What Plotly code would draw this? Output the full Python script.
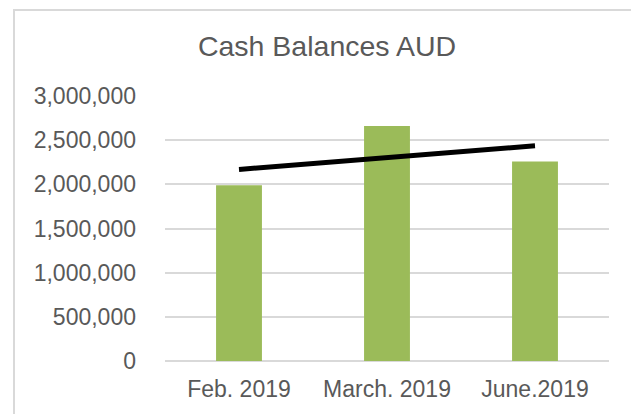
import numpy as np
import plotly.graph_objects as go

categories = ["Feb. 2019", "March. 2019", "June.2019"]
balances = [1990000, 2659000, 2258000]
y_ticks = [0, 500000, 1000000, 1500000, 2000000, 2500000, 3000000]
y_tick_labels = ["0", "500,000", "1,000,000", "1,500,000", "2,000,000", "2,500,000", "3,000,000"]

# Linear trendline (as in the Excel chart)
xi = np.arange(len(balances))
slope, intercept = np.polyfit(xi, balances, 1)
trend = (slope * xi + intercept).tolist()

W, H = 639, 414
OFF = 8  # page body margin offset
L, R, T, B = 165 - OFF, 30 + OFF, 96 - OFF, 53 + OFF

fig = go.Figure()
fig.add_trace(go.Bar(x=categories, y=balances, marker=dict(color="#9BBB59", line=dict(width=0)),
                     width=0.31, showlegend=False))
fig.add_trace(go.Scatter(x=categories, y=trend, mode="lines",
                         line=dict(color="#000000", width=5), showlegend=False))

def px_x(p):
    return (p - OFF - L) / (W - L - R)

def px_y(p):
    return (H - B - (p - OFF)) / (H - T - B)

fig.add_shape(type="rect", xref="paper", yref="paper",
              x0=px_x(14), x1=px_x(636.5), y0=px_y(420), y1=px_y(10),
              line=dict(color="#D9D9D9", width=2), fillcolor="rgba(0,0,0,0)", layer="below")

font_family = "Liberation Sans, Arial, sans-serif"
fig.update_layout(
    width=W, height=H,
    margin=dict(l=L, r=R, t=T, b=B, autoexpand=False),
    paper_bgcolor="white", plot_bgcolor="white",
    font=dict(family=font_family, color="#595959"),
    title=dict(text="Cash Balances AUD", x=(327 - OFF) / W, xanchor="center", xref="container",
               y=1 - (46 - OFF) / H, yanchor="middle", yref="container",
               font=dict(size=28.5, color="#595959", family=font_family)),
)
fig.update_xaxes(type="category", range=[-0.5, 2.5], showgrid=False, showline=False,
                 ticks="", tickfont=dict(size=23, color="#595959"), ticklabelstandoff=12,
                 fixedrange=True)
fig.update_yaxes(range=[0, 3000000], tickvals=y_ticks, ticktext=y_tick_labels,
                 showgrid=True, gridcolor="#D9D9D9", gridwidth=1.5,
                 zeroline=True, zerolinecolor="#D9D9D9", zerolinewidth=1.5,
                 showline=False, ticks="", tickfont=dict(size=23, color="#595959"),
                 ticklabelstandoff=28, fixedrange=True)

fig.write_html("out.html")
